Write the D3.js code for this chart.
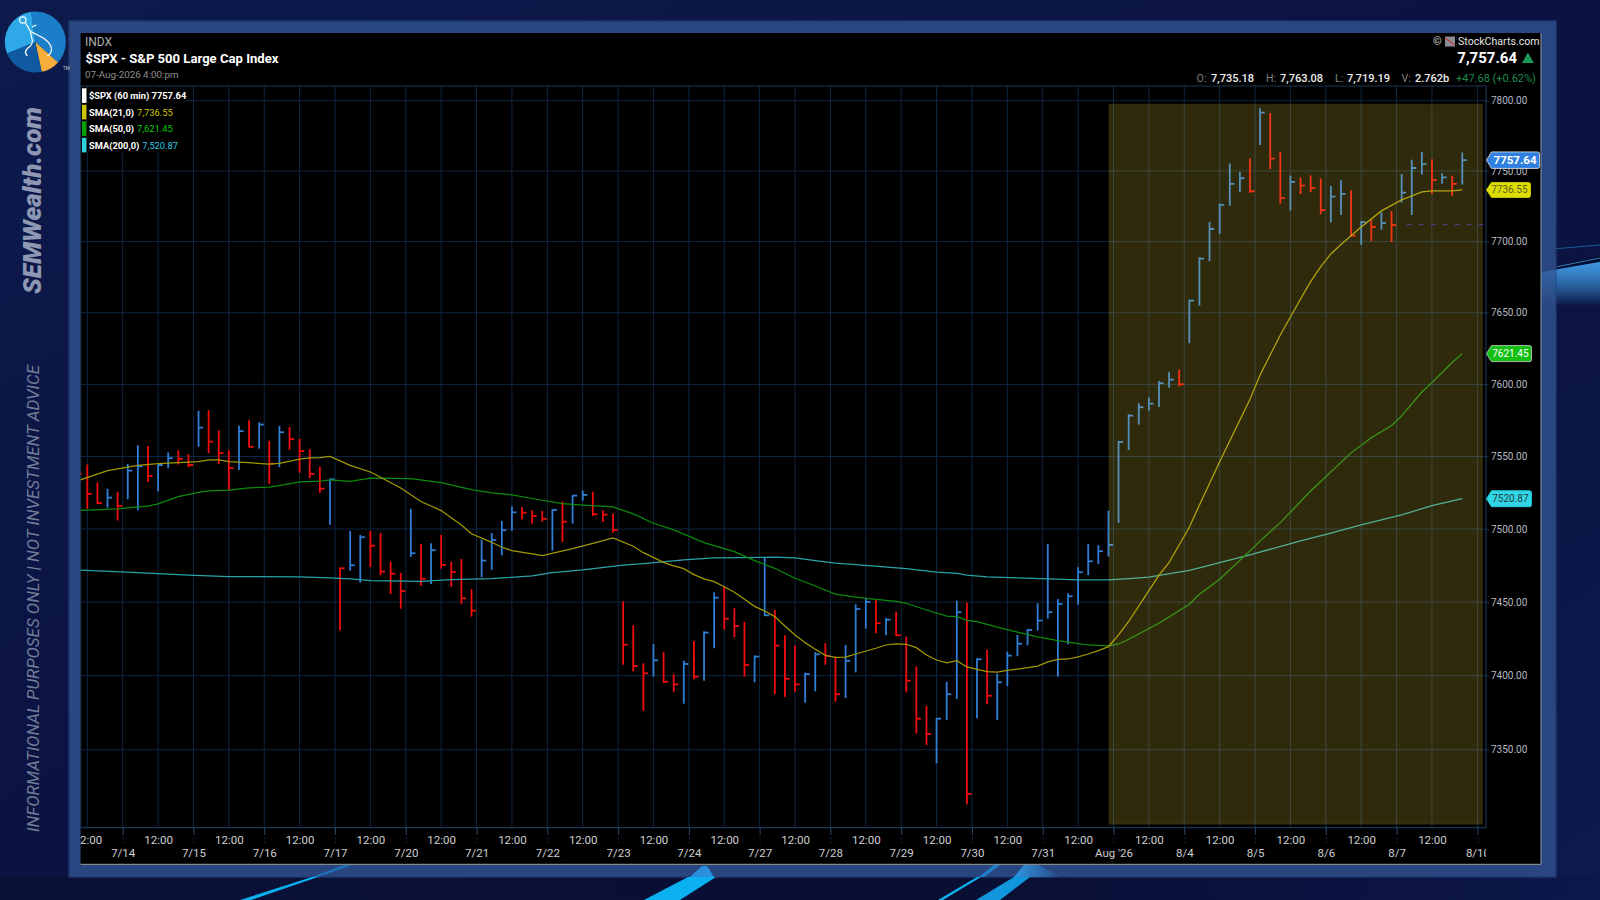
<!DOCTYPE html>
<html>
<head>
<meta charset="utf-8">
<title>$SPX - S&amp;P 500 Large Cap Index</title>
<script src="https://cdn.jsdelivr.net/npm/d3@7"></script>
<style>
html, body { margin: 0; padding: 0; background: #0a1238; overflow: hidden; }
svg { display: block; }
text { font-family: Roboto, sans-serif; }
</style>
</head>
<body>
<div id="chart"></div>
<script>
// hourly bars, 7 a day
const barHigh = [7547.6,7544.4,7532,7527.8,7525.7,7544.8,7557.8,7557.3,7544.4,7552.7,7554.3,7551.6,7581.6,7582,7567.9,7554.3,7571.2,7575.1,7573.7,7560.8,7571.2,7570.3,7562.2,7555,7543,7534.7,
    7473.6,7498.7,7496,7498.7,7497.3,7477.7,7469.9,7513.9,7489.8,7490.3,7496,7477.7,7479.5,7458.8,7492.7,7497.3,7505.6,7515.6,7515.2,7512.9,7512.4,7513.6,7519,7523.2,7526.5,7525.7,7512.9,7510.6,
    7450.5,7434.2,7408.4,7421.5,7415.9,7400.9,7410.2,7423.3,7430.1,7456.7,7460.5,7445.8,7436.5,7413.8,7480.7,7444.6,7427.2,7420.4,7402,7415.9,7422,7412.9,7420.8,7448.5,7452.1,7451.4,7439.4,7443.5,
    7426.5,7406.3,7379.5,7371.4,7395.9,7451,7449.6,7411.8,7417.7,7401.3,7416.3,7427.6,7431.7,7449.2,7489.6,7452.1,7456,7473.8,7489.6,7488.9,7512.5,
    7560.8,7579.3,7586.9,7590.8,7602.4,7608.5,7610.3,7659.2,7689,7713.9,7726.8,7755.2,7749.3,7759,7794.6,7791.3,7763.7,7746.7,7745.3,7746.7,7744.8,7739.4,7743.4,7736.3,7714.6,7715.3,7720.8,7721.7,7747.9,7757.9,7763.7,7758.3,7748.4,7746.5,7763.08];
const barLow = [7520,7514,7517.3,7514.7,7505.8,7520.5,7512.9,7532.4,7526,7541.9,7544.4,7542.6,7556.8,7552.3,7544.8,7526.5,7540.7,7556.4,7555.4,7531.1,7542.6,7554.7,7538.8,7535,7524.9,7503,
    7430.6,7471.5,7463.3,7474,7468.4,7455.5,7445.5,7480.9,7461.2,7462.4,7472.9,7460.5,7448.7,7440.1,7467,7472,7482,7498.9,7506.7,7503.7,7505.1,7485.2,7491.2,7503.7,7519.5,7509,7504.9,7497.5,
    7407.4,7402.9,7376.1,7399.3,7395,7389.1,7381,7397.5,7396.6,7418.6,7431.2,7426.1,7399.3,7395.5,7440.5,7387.4,7385.6,7389.1,7381.7,7389.4,7407.4,7382.4,7384.9,7402.2,7431.9,7428.8,7427.4,7427,
    7388.7,7360.8,7353.2,7340.9,7370,7384.2,7313.4,7371.2,7380.6,7370,7393,7413.2,7420.6,7430.6,7438.7,7399.3,7421.3,7448.2,7468.4,7475.9,7481.1,
    7504.2,7554.5,7572.1,7581.8,7584.3,7597.7,7598.7,7628.7,7655,7686.2,7705.5,7725.4,7735.1,7734.6,7768.5,7751.4,7726.9,7721.9,7733.7,7735.1,7719.3,7713.7,7718.8,7703.5,7697.8,7700.4,7708.4,7699.7,7727.6,7718.8,7747.4,7733.7,7741,7732.5,7740.3];
const barClose = [7538,7524.2,7517.8,7521.6,7515.9,7540.2,7543.2,7536.4,7544.1,7548.8,7548.3,7544.1,7570,7560.3,7552.3,7541.9,7567.5,7556.6,7572.1,7545,7566.8,7562,7553.8,7538,7527.8,7534.3,
    7473.1,7475.2,7494.4,7488.6,7470.8,7469.4,7457.6,7483.4,7466,7485.5,7475.4,7470.6,7452.6,7444.2,7478.4,7492.5,7499.2,7511.5,7511.3,7509,7507,7513.1,7505.1,7523,7523.5,7510.2,7509.9,7499.4,
    7421,7406.5,7401.6,7410.4,7395.9,7394.1,7407.9,7399.3,7429.2,7453,7438.7,7433.7,7407.2,7412.9,7441,7420.4,7397.9,7394.1,7401.1,7414.5,7413.4,7387.4,7410,7445.3,7450.1,7435.6,7438,7427.4,
    7396.6,7370.9,7360.6,7370.9,7387.4,7443.1,7320.3,7411.1,7386.4,7395.5,7413.6,7421.7,7431,7437.4,7443.1,7448.7,7454,7470.4,7477.9,7484.8,7489.1,
    7560.1,7578.3,7584.1,7586.6,7600.8,7603.3,7600.1,7658.5,7688,7708.9,7725.9,7740.8,7744.8,7735.6,7791.5,7758.8,7730.7,7742.2,7739.6,7737.8,7722.2,7731.8,7733.7,7704.2,7713.7,7710.4,7713,7711.6,7734.6,7752.1,7754.8,7743.6,7745.5,7740.8,7757.64];

// moving averages, read at the bars listed in each *Bars array
const sma21Bars = [0,3,5,6,8,10,12,13,14,15,17,19,20,22,23,24,25,27,29,30,32,34,36,38,39,41,42,43,45,46,49,51,53,55,56,58,59,60,61,62,63,64,65,66,67,68,69,70,71,72,73,74,75,76,77,79,80,81,82,83,84,85,86,87,88,89,90,91,92,93,95,96,97,98,99,100,101,102,103,104,107,108,110,111,113,116,117,119,121,122,123,124,125,127,129,131,133,134,136,137];
const sma21 = [7533.1,7540.2,7542.6,7543.9,7545,7545.7,7546.4,7547.6,7547.6,7546.4,7545.7,7544.8,7545.3,7548.1,7549,7549.2,7550.1,7543.9,7539.3,7535.7,7528.3,7518.9,7512.7,7502.8,7496.8,7490.9,7487.5,7485.2,7482.9,7481.8,7486.6,7490.2,7493.9,7488.2,7483.8,7477.2,7474.7,7472.9,7468.8,7465.9,7464,7460.5,7456.7,7451.9,7447.1,7443.9,7440.1,7433.7,7427.6,7422.4,7417.9,7413.8,7412.4,7412.6,7414.7,7418.6,7420.8,7421.5,7421.3,7419,7414,7410.6,7408.6,7410.2,7405.9,7404.3,7402.7,7402.4,7403.6,7404.5,7406.5,7409.3,7411.1,7411.3,7412.7,7414.7,7417,7419.7,7427.7,7436.8,7468.4,7477.1,7501.2,7516.6,7546.4,7589.7,7606.6,7634.5,7659.7,7671.8,7682.4,7691.3,7698,7710.3,7721.7,7729.5,7735.1,7735.9,7735.9,7736.55];
const sma50Bars = [0,4,6,7,8,10,12,13,15,17,19,20,22,24,25,27,29,33,36,39,41,43,46,48,50,53,55,57,59,62,65,67,69,71,73,75,77,79,81,82,84,86,87,88,89,91,93,95,97,99,100,102,103,104,107,110,111,113,116,117,119,122,126,128,130,131,133,134,136,137];
const sma50 = [7512.7,7513.9,7515.2,7515.7,7517.3,7522.3,7525.3,7526.2,7526.7,7528.3,7528.8,7529.9,7532.4,7532.9,7533.8,7532.9,7535,7534.7,7531.9,7527.1,7524.9,7523.5,7519.8,7517.5,7516.4,7515.2,7510.4,7504,7499.4,7490.7,7484.5,7478.4,7473.1,7466.3,7461,7455.5,7453.4,7451.9,7450.5,7449.2,7444.6,7440.5,7440.1,7437.6,7436.7,7432.9,7429.5,7426.3,7423.8,7421.7,7420.8,7420.2,7421.5,7424.7,7435.6,7448.5,7455.4,7465.6,7485,7491.9,7504.4,7526.2,7552.5,7562.9,7571.5,7578.1,7594.7,7601.2,7615.2,7621.45];
const sma200Bars = [0,6,11,15,22,25,27,29,34,37,41,45,47,50,54,56,60,63,69,71,73,75,77,82,85,87,88,90,93,96,99,102,104,106,110,111,113,116,121,124,127,131,134,137];
const sma200 = [7472,7470.1,7468.4,7467.4,7467.2,7466.5,7465.8,7464.7,7464.2,7465.3,7466,7467.9,7470.1,7472,7475.2,7476.3,7478.8,7480.2,7480.7,7480.2,7478.4,7476.6,7475.6,7472.9,7470.4,7469.7,7468.4,7467.2,7466.5,7465.8,7465.1,7465.1,7466,7467,7471.7,7473.4,7477,7482.3,7491.9,7497.2,7502.8,7509.7,7516.1,7520.87];

const priceTicks = [7800, 7750, 7700, 7650, 7600, 7550, 7500, 7450, 7400, 7350];
const dateTicks = [4.5, 11.5, 18.5, 25.5, 32.5, 39.5, 46.5, 53.5, 60.5, 67.5, 74.5, 81.5, 88.5, 95.5, 102.5, 109.5, 116.5, 123.5, 130.5, 138.5];
const dateLabels = ["7/14", "7/15", "7/16", "7/17", "7/20", "7/21", "7/22", "7/23", "7/24", "7/27", "7/28", "7/29", "7/30", "7/31", "Aug '26", "8/4", "8/5", "8/6", "8/7", "8/10"];
const noonTicks = d3.range(1, 135, 7);

const width = 1600;
const height = 900;
const plot = { left: 80.6, right: 1486, top: 86, bottom: 827.7 };

const svg = d3.select("#chart").append("svg").attr("width", width).attr("height", height);
const defs = svg.append("defs");

const x = d3.scaleLinear().domain([0, 137]).range([77.2, 1462.3]);
// log price axis
const y = d3.scaleLog().domain([7800, 7350]).range([100.7, 749.7]);

// ---- page background
const bgGrad = defs.append("linearGradient").attr("id", "bg").attr("x1", 0).attr("y1", 0).attr("x2", 1).attr("y2", 1);
bgGrad.append("stop").attr("offset", "0%").attr("stop-color", "#0d1a4c");
bgGrad.append("stop").attr("offset", "55%").attr("stop-color", "#0a1240");
bgGrad.append("stop").attr("offset", "100%").attr("stop-color", "#0d1a4e");
svg.append("rect").attr("width", width).attr("height", height).attr("fill", "url(#bg)");
const stripGrad = defs.append("linearGradient").attr("id", "strip");
stripGrad.append("stop").attr("offset", "0%").attr("stop-color", "#0a1138");
stripGrad.append("stop").attr("offset", "60%").attr("stop-color", "#090e33");
stripGrad.append("stop").attr("offset", "100%").attr("stop-color", "#0c174a");
svg.append("rect").attr("x", 0).attr("y", 877).attr("width", width).attr("height", 23).attr("fill", "url(#strip)");

// swoosh on the right edge
const swoosh = defs.append("linearGradient").attr("id", "swoosh").attr("x1", 0).attr("y1", 0).attr("x2", 0).attr("y2", 1);
swoosh.append("stop").attr("offset", "0%").attr("stop-color", "#3f97e0");
swoosh.append("stop").attr("offset", "100%").attr("stop-color", "#3f97e0").attr("stop-opacity", 0);
const swooshPath = "M1530,274 L1600,262 L1600,306 L1530,306 Z";
svg.append("path").attr("d", swooshPath).attr("fill", "url(#swoosh)");
svg.append("path").attr("d", "M1530,271 L1600,256 L1600,261 L1530,273 Z").attr("fill", "#060c2c");
svg.append("path").attr("d", "M1541,250 L1600,245").attr("stroke", "#1c5a96").attr("stroke-width", 1).attr("fill", "none");
svg.append("path").attr("d", "M1541,270 L1600,258").attr("stroke", "#2f7fc0").attr("stroke-width", 1).attr("fill", "none");

// ---- frame, streaks partly under it
svg.append("rect").attr("x", 69).attr("y", 21).attr("width", 1487).attr("height", 856)
    .attr("fill", "#2a4680").attr("stroke", "#1f3a70").attr("stroke-width", 1.5);
svg.append("path").attr("d", swooshPath).attr("fill", "url(#swoosh)").attr("opacity", 0.45).attr("clip-path", "none");

const fade = defs.append("linearGradient").attr("id", "streak-fade");
fade.append("stop").attr("offset", "0%").attr("stop-color", "#2f96e4");
fade.append("stop").attr("offset", "100%").attr("stop-color", "#2f96e4").attr("stop-opacity", 0);
const streaks = [
    ["M240,900 L251,900 L318,877 L312,877 Z", "#0bb0f0"],
    ["M312,877 L318,877 L352,865 L344,865 Z", "#1f6fb8"],
    ["M644,900 L680,900 L716,877 L688,877 Z", "#0bb0f0"],
    ["M690,877 L714,877 L707,866 L702,866 Z", "#2a8fdc"],
    ["M938,900 L943,900 L981,877 L977,877 Z", "#0bb0f0"],
    ["M979,877 L984,877 L1000,865 L994,865 Z", "#1f7fc8"],
    ["M976,900 L1000,900 L1030,877 L1014,877 Z", "#0f96dc"],
    ["M1014,877 L1062,877 L1038,865 L1024,865 Z", "url(#streak-fade)"]
];
svg.selectAll(".streak").data(streaks).enter().append("path").attr("d", d => d[0]).attr("fill", d => d[1]);

// ---- black chart panel
svg.append("rect").attr("x", 80.6).attr("y", 33).attr("width", 1460.4).attr("height", 831).attr("fill", "#000");
svg.append("line").attr("x1", 80.6).attr("x2", 1541).attr("y1", 864.3).attr("y2", 864.3).attr("stroke", "#9c9c86").attr("stroke-width", 1);
svg.append("line").attr("x1", 1541).attr("x2", 1541).attr("y1", 33).attr("y2", 864).attr("stroke", "#8c96aa").attr("stroke-width", 1);

defs.append("clipPath").attr("id", "plot-clip").append("rect")
    .attr("x", plot.left).attr("y", plot.top).attr("width", plot.right - plot.left).attr("height", plot.bottom - plot.top);
defs.append("clipPath").attr("id", "axis-clip").append("rect")
    .attr("x", plot.left).attr("y", plot.bottom).attr("width", plot.right - plot.left).attr("height", 36);

// ---- grid
const grid = svg.append("g").attr("stroke", "#0f2640").attr("stroke-width", 1);
grid.selectAll(".gx").data(dateTicks.concat(noonTicks)).enter().append("line")
    .attr("x1", d => x(d)).attr("x2", d => x(d)).attr("y1", plot.top).attr("y2", plot.bottom);
grid.selectAll(".gy").data(priceTicks).enter().append("line")
    .attr("x1", plot.left).attr("x2", plot.right).attr("y1", d => y(d)).attr("y2", d => y(d));
svg.append("path")
    .attr("d", `M${plot.left},${plot.bottom} V${plot.top} H${plot.right} V${plot.bottom} Z`)
    .attr("fill", "none").attr("stroke", "#1b3655").attr("stroke-width", 1.2);

// ---- bars
const chartArea = svg.append("g").attr("clip-path", "url(#plot-clip)");
const barColor = i => (i > 0 && barClose[i] >= barClose[i - 1]) ? "#2f7fd6" : "#f20d0d";
const bars = chartArea.selectAll(".bar").data(barClose.map((c, i) => i)).enter().append("g").attr("stroke", barColor).attr("stroke-width", 1.8);
bars.append("line").attr("x1", x).attr("x2", x).attr("y1", i => y(barHigh[i])).attr("y2", i => y(barLow[i]));
bars.append("line").attr("x1", x).attr("x2", i => x(i) + 4.6).attr("y1", i => y(barClose[i])).attr("y2", i => y(barClose[i]));

// ---- moving averages
const smaLine = d3.line().x(d => x(d[0])).y(d => y(d[1]));
const smaSeries = [
    [sma200Bars, sma200, "#2aa3a8"],
    [sma50Bars, sma50, "#0c8a0c"],
    [sma21Bars, sma21, "#a29800"]
];
chartArea.selectAll(".sma").data(smaSeries).enter().append("path")
    .attr("d", d => smaLine(d3.zip(d[0], d[1])))
    .attr("fill", "none").attr("stroke", d => d[2]).attr("stroke-width", 1.25);

// dashed level under the last bars
chartArea.append("line").attr("x1", x(131.5)).attr("x2", plot.right).attr("y1", y(7712)).attr("y2", y(7712))
    .attr("stroke", "#2020a8").attr("stroke-width", 1).attr("stroke-dasharray", "5,7");

// ---- highlighted period, laid over everything
svg.append("rect")
    .attr("x", x(102.06)).attr("y", y(7797.4)).attr("width", x(139) - x(102.06)).attr("height", y(7300) - y(7797.4))
    .attr("fill", "#ffe040").attr("fill-opacity", 0.19)
    .attr("stroke", "#ffe040").attr("stroke-opacity", 0.05).attr("stroke-width", 2);

// ---- axes
const xAxisLabels = svg.append("g").attr("clip-path", "url(#axis-clip)");
const noonAxis = xAxisLabels.append("g").attr("transform", `translate(0,${plot.bottom})`)
    .call(d3.axisBottom(x).tickValues(noonTicks).tickFormat(() => "12:00").tickSize(0).tickPadding(8));
const dateAxis = xAxisLabels.append("g").attr("transform", `translate(0,${plot.bottom})`)
    .call(d3.axisBottom(x).tickValues(dateTicks).tickFormat((d, i) => dateLabels[i]).tickSize(6).tickPadding(15.5));
dateAxis.selectAll(".tick").append("line").attr("y1", 6).attr("y2", 18).attr("stroke", "#2a4a6c").attr("stroke-dasharray", "1,3");
dateAxis.selectAll(".tick line").attr("stroke", "#2a4a6c");
xAxisLabels.selectAll(".domain").remove();
xAxisLabels.selectAll("text").attr("fill", "#cfcfcf").attr("font-size", 11.5).attr("font-family", "Roboto, sans-serif");

const priceAxis = svg.append("g").attr("transform", `translate(${plot.right},0)`)
    .call(d3.axisRight(y).tickValues(priceTicks).tickFormat(d3.format(".2f")).tickSize(3).tickPadding(2));
priceAxis.select(".domain").remove();
priceAxis.selectAll("line").attr("stroke", "#1b3655");
priceAxis.selectAll("text").attr("fill", "#b4b8c0").attr("font-size", 10).attr("font-family", "Roboto, sans-serif");

// ---- value tags on the price axis
const tagData = [
    [7520.87, "7520.87", "#2fd6e6", "#2a3a40", 45, 16, "#2fd6e6", 400],
    [7621.45, "7621.45", "#12c012", "#ffffff", 45, 16, "#d8d8d8", 400],
    [7736.55, "7736.55", "#dcdc00", "#5c5c20", 44, 15, "#dcdc00", 400],
    [7757.64, "7757.64", "#2f80e0", "#ffffff", 53, 16.5, "#e8e8e8", 700]
];
const tags = svg.selectAll(".tag").data(tagData).enter().append("g")
    .attr("transform", d => `translate(${plot.right + 0.5},${y(d[0])})`);
tags.append("path")
    .attr("d", d => `M0,0 L5,${-d[5] / 2} H${d[4] - 2} Q${d[4]},${-d[5] / 2} ${d[4]},${-d[5] / 2 + 2} V${d[5] / 2 - 2} Q${d[4]},${d[5] / 2} ${d[4] - 2},${d[5] / 2} H5 Z`)
    .attr("fill", d => d[2]).attr("stroke", d => d[6]).attr("stroke-width", 0.8);
tags.append("text").attr("x", d => d[4] - 3).attr("y", 3.5).attr("text-anchor", "end")
    .attr("font-size", d => d[7] === 700 ? 11.5 : 10).attr("font-weight", d => d[7]).attr("fill", d => d[3]).text(d => d[1]);

// ---- header text
const header = [
    ["INDX", 85, 46, 12, 400, "#aeaeae"],
    ["$SPX - S&P 500 Large Cap Index", 85.5, 63, 13.1, 700, "#ffffff"],
    ["07-Aug-2026 4:00:pm", 85, 78, 9.8, 400, "#8e8e8e"],
    ["O:", 1196.5, 82, 10.5, 400, "#808080"],
    ["7,735.18", 1211, 82, 11, 500, "#eeeeee"],
    ["H:", 1266, 82, 10.5, 400, "#808080"],
    ["7,763.08", 1280, 82, 11, 500, "#eeeeee"],
    ["L:", 1335, 82, 10.5, 400, "#808080"],
    ["7,719.19", 1347, 82, 11, 500, "#eeeeee"],
    ["V:", 1401.5, 82, 10.5, 400, "#808080"],
    ["2.762b", 1415, 82, 11, 500, "#eeeeee"],
    ["+47.68 (+0.62%)", 1456, 82, 11, 400, "#1d8a50"],
    ["©", 1433, 45, 11, 400, "#d8d8d8"],
    ["StockCharts.com", 1458, 45, 10.6, 400, "#e4e4e4"]
];
svg.selectAll(".head").data(header).enter().append("text")
    .attr("x", d => d[1]).attr("y", d => d[2]).attr("font-size", d => d[3])
    .attr("font-weight", d => d[4]).attr("fill", d => d[5]).text(d => d[0]);
svg.append("text").attr("x", 1517).attr("y", 63).attr("text-anchor", "end").attr("font-size", 15).attr("font-weight", 700).attr("fill", "#fff").text("7,757.64");
svg.append("path").attr("d", "M1522,63 L1533.8,63 L1527.9,52.5 Z").attr("fill", "#1a9a55");
// little StockCharts logo square
svg.append("rect").attr("x", 1445).attr("y", 36.5).attr("width", 10).attr("height", 10).attr("fill", "#8c8c96");
svg.append("path").attr("d", "M1445,38 L1455,45").attr("stroke", "#c04040").attr("stroke-width", 1.4);

// ---- legend
const legendRows = [
    ["$SPX (60 min) 7757.64", "", "#ffffff", "#ffffff", 94],
    ["SMA(21,0)", "7,736.55", "#c8c400", "#c8c400", 80],
    ["SMA(50,0)", "7,621.45", "#0aa00a", "#0ac80a", 80],
    ["SMA(200,0)", "7,520.87", "#30d0e0", "#30c8e0", 85]
];
const legend = svg.selectAll(".leg").data(legendRows).enter().append("g")
    .attr("transform", (d, i) => `translate(82,${88.3 + i * 16.5})`);
legend.append("rect").attr("x", 0).attr("y", 0).attr("width", d => d[4] + 8).attr("height", 14.6).attr("fill", "#000");
legend.append("rect").attr("x", 0).attr("y", 0).attr("width", 4.5).attr("height", 14.6).attr("fill", d => d[2]);
const legendText = legend.append("text").attr("x", 7).attr("y", 11).attr("font-size", 9.3).attr("font-weight", 700).attr("fill", "#fff");
legendText.append("tspan").text(d => d[0]);
legendText.append("tspan").attr("dx", 3).attr("font-weight", 400).attr("fill", d => d[3]).text(d => d[1]);

// ---- logo
const logo = svg.append("g").attr("transform", "translate(35.3,42)");
const deg = Math.PI / 180;
const logoArc = d3.arc().innerRadius(0).outerRadius(30.5);
const logoSlices = [
    [-8, 132, "#1b7ec8"],
    [132, 168, "#f6ad3c"],
    [168, 248, "#0f5aa0"],
    [248, 352, "#2ea8e6"]
];
logo.selectAll(".slice").data(logoSlices).enter().append("path")
    .attr("d", d => logoArc({ startAngle: d[0] * deg, endAngle: d[1] * deg }))
    .attr("fill", d => d[2]);
logo.append("circle").attr("cx", -12.5).attr("cy", -22).attr("r", 3.2).attr("fill", "none").attr("stroke", "#fff").attr("stroke-width", 1.2);
logo.append("path")
    .attr("d", "M-10,-19.5 L-5,-11 C0,-7 14,-4 16,6 C17,10 14,13 12,14 M-5,-11 C-4,-4 -1,0 -5,4 C-9,7 -12,10 -8,14 M-3,-15 L1,-17")
    .attr("fill", "none").attr("stroke", "#fff").attr("stroke-width", 1.2);
svg.append("text").attr("x", 63).attr("y", 70).attr("font-size", 4.5).attr("fill", "#c8ccd8").text("TM");

// ---- side text
svg.append("text").attr("transform", "translate(41,294) rotate(-90)")
    .attr("font-family", "Lato, sans-serif").attr("font-size", 25).attr("font-weight", 900).attr("font-style", "italic")
    .attr("textLength", 187).attr("lengthAdjust", "spacingAndGlyphs").attr("fill", "#8e98b2").text("SEMWealth.com");
svg.append("text").attr("transform", "translate(39,832) rotate(-90)")
    .attr("font-family", "Lato, sans-serif").attr("font-size", 16).attr("font-style", "italic")
    .attr("textLength", 467).attr("lengthAdjust", "spacingAndGlyphs").attr("fill", "#747d98").text("INFORMATIONAL PURPOSES ONLY | NOT INVESTMENT ADVICE");
</script>
</body>
</html>
